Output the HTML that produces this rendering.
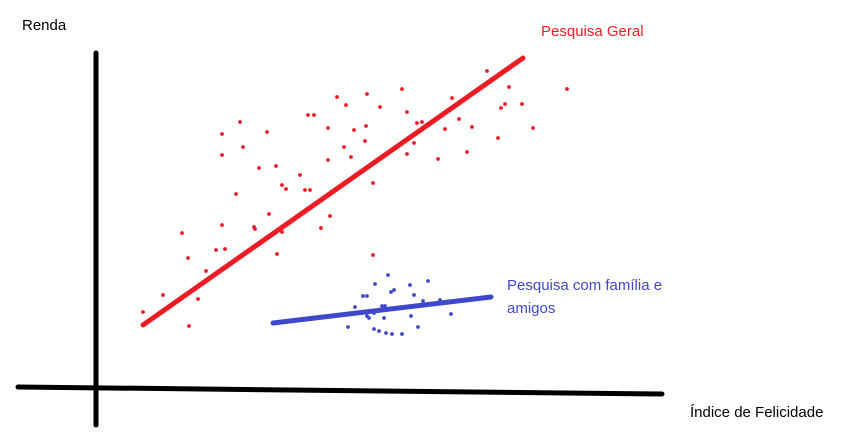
<!DOCTYPE html>
<html><head><meta charset="utf-8"><style>
html,body{margin:0;padding:0;background:#fff;}
svg{display:block;}
text{font-family:"Liberation Sans",sans-serif;font-size:15px;}
</style></head><body>
<svg id="chart" width="868" height="437">
<line x1="96" y1="53" x2="96" y2="425" stroke="#000" stroke-width="5" stroke-linecap="round"/>
<line x1="18" y1="387" x2="662" y2="394" stroke="#000" stroke-width="5" stroke-linecap="round"/>
<text x="22" y="30" fill="#000">Renda</text>
<text x="690" y="417" fill="#000">Índice de Felicidade</text>
<text x="541" y="36" fill="#ed1c24">Pesquisa Geral</text>
<text x="507" y="290" fill="#3f48cc">Pesquisa com família e</text>
<text x="507" y="313" fill="#3f48cc">amigos</text>
<g id="marks"></g>
</svg>
<script>
const redHappiness=[47,67,93,86,92,102,110,120,129,126,126,126,144,147,140,163,158,159,171,173,171,180,186,190,181,186,204,209,214,212,218,225,234,232,232,241,250,248,255,258,269,270,271,277,277,284,306,311,311,318,321,326,342,349,356,363,371,376,391,402,405,409,413,426,437,471];
const redIncome=[75,92,61,154,129,88,116,137,138,162,232,253,265,240,193,219,160,158,255,173,150,221,202,198,133,155,212,197,197,272,272,159,171,227,259,290,282,240,230,257,246,261,293,204,132,280,298,275,233,244,264,265,228,258,289,268,235,260,316,249,279,283,300,283,259,298];
const blueHappiness=[292,279,332,314,298,295,318,267,271,327,344,286,289,259,278,271,273,288,315,355,252,322,278,283,290,296,306];
const blueIncome=[112,103,106,102,97,95,92,91,91,86,87,81,81,80,74,71,69,69,71,73,60,60,58,56,54,53,53];
const redTrend=[[47,62],[427,329]];
const blueTrend=[[177,64],[395,90]];
const x=v=>96+v;
const y=v=>387-v;
const NS="http://www.w3.org/2000/svg";
const g=document.getElementById('marks');
function line(t,c,w,name){
  const l=document.createElementNS(NS,'line');
  l.setAttribute('x1',x(t[0][0]));l.setAttribute('y1',y(t[0][1]));
  l.setAttribute('x2',x(t[1][0]));l.setAttribute('y2',y(t[1][1]));
  l.setAttribute('stroke',c);l.setAttribute('stroke-width',w);l.setAttribute('stroke-linecap','round');
  
  
  g.appendChild(l);
}
function dots(xs,ys,c,name){
  for(let i=0;i<xs.length;i++){
    const d=document.createElementNS(NS,'circle');
    d.setAttribute('cx',x(xs[i]));d.setAttribute('cy',y(ys[i]));d.setAttribute('r',1.9);d.setAttribute('fill',c);
    
    
    g.appendChild(d);
  }
}
dots(redHappiness,redIncome,'#ed1c24','general-survey-point');
dots(blueHappiness,blueIncome,'#3f48cc','friends-survey-point');
line(redTrend,'#ed1c24',5,'general-survey-trendline');
line(blueTrend,'#3f48cc',5,'friends-survey-trendline');
</script>
</body></html>
